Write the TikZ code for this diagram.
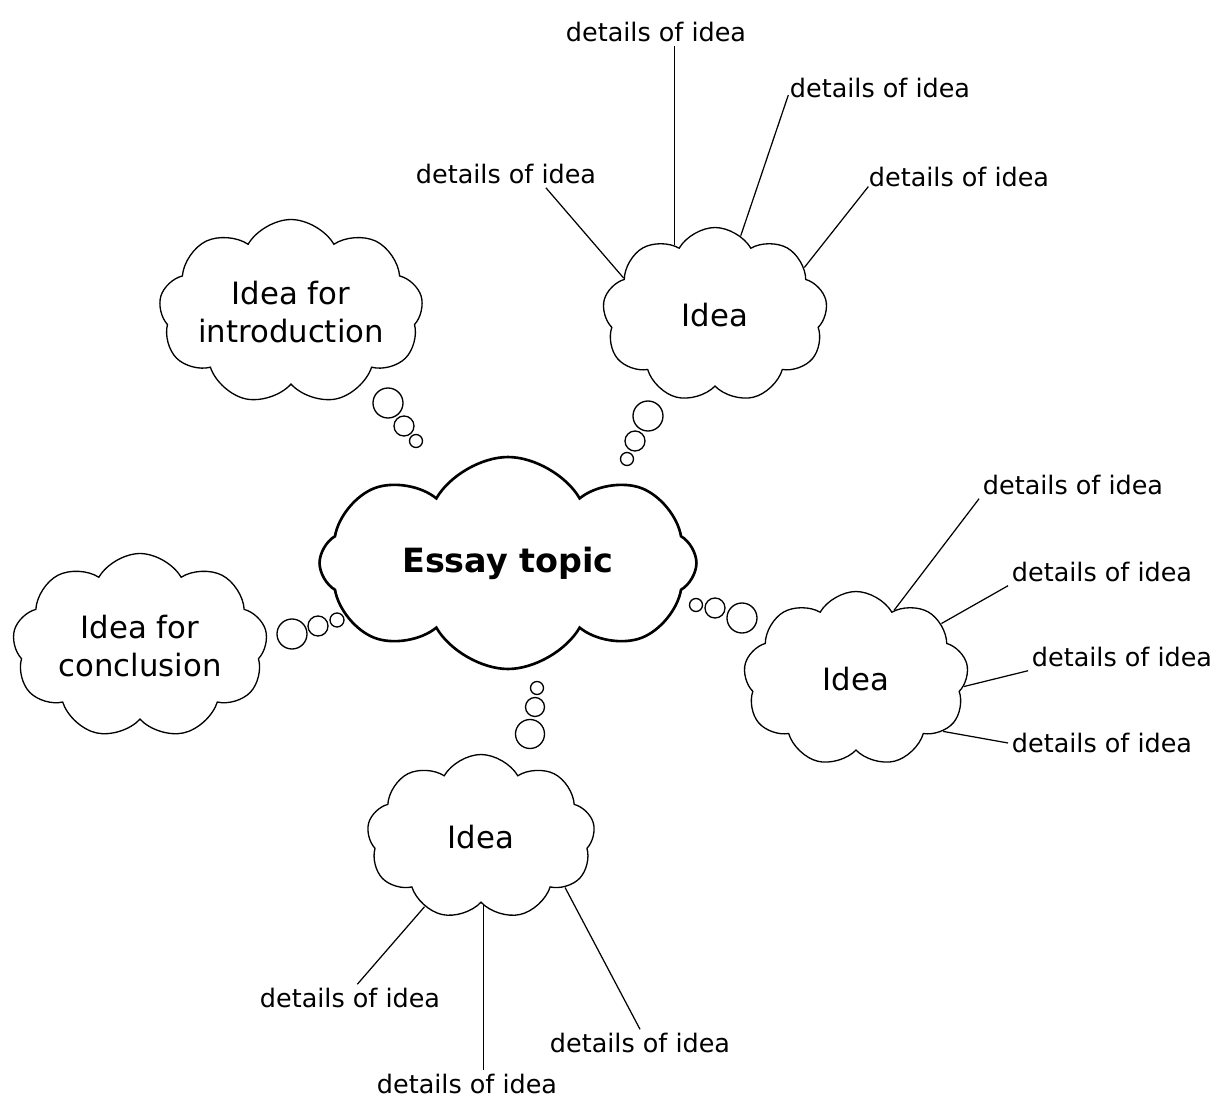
\documentclass[tikz,border=0pt]{standalone}
\usepackage{fontspec}
\setmainfont{DejaVu Sans}
\usetikzlibrary{shapes.symbols,positioning}

\begin{document}
\begin{tikzpicture}[x=0.02cm, y=-0.02cm,
    thought/.style={cloud, draw, cloud puffs=9, cloud puff arc=120, cloud ignores aspect, inner sep=0pt, align=center, font=\fontsize{17.5}{22}\selectfont, line width=0.75pt},
    topic/.style={thought, cloud puffs=8, line width=1.5pt, font=\fontsize{19}{23}\selectfont\bfseries},
    detail/.style={inner sep=2pt, font=\fontsize{14.5}{17}\selectfont},
    bubble/.style={circle, draw, inner sep=0pt, line width=0.75pt},
    link/.style={line width=0.7pt}
]
    \useasboundingbox (0,0) rectangle (1218,1099);

    % Clouds
    \node[topic, minimum width=7.54cm, minimum height=4.24cm] (topic) at (508,563) {Essay topic};
    \node[thought, minimum width=5.06cm, minimum height=3.7cm] (intro) at (291,312) {Idea for\\introduction};
    \node[thought, minimum width=5.1cm, minimum height=3.7cm] (concl) at (140,646) {Idea for\\conclusion};
    \node[thought, minimum width=4.5cm, minimum height=3.5cm] (ideaA) at (715,315) {Idea};
    \node[thought, minimum width=4.5cm, minimum height=3.5cm] (ideaB) at (856,679) {Idea};
    \node[thought, minimum width=4.56cm, minimum height=3.3cm] (ideaC) at (481,837) {Idea};

    % Thought bubbles
    \node[bubble, minimum size=0.6cm] (introA) at (388,403) {};
    \node[bubble, minimum size=0.4cm] (introB) at (404,426) {};
    \node[bubble, minimum size=0.26cm] (introC) at (416,441) {};
    \node[bubble, minimum size=0.6cm] (conclA) at (292,634) {};
    \node[bubble, minimum size=0.4cm] (conclB) at (318,626) {};
    \node[bubble, minimum size=0.28cm] (conclC) at (337,620) {};
    \node[bubble, minimum size=0.6cm] (ideaAa) at (648,416) {};
    \node[bubble, minimum size=0.4cm] (ideaAb) at (635,441) {};
    \node[bubble, minimum size=0.26cm] (ideaAc) at (627,459) {};
    \node[bubble, minimum size=0.6cm] (ideaBa) at (742,618) {};
    \node[bubble, minimum size=0.4cm] (ideaBb) at (715,608) {};
    \node[bubble, minimum size=0.26cm] (ideaBc) at (696,605) {};
    \node[bubble, minimum size=0.58cm] (ideaCa) at (530,734) {};
    \node[bubble, minimum size=0.38cm] (ideaCb) at (535,707) {};
    \node[bubble, minimum size=0.26cm] (ideaCc) at (537,688) {};

    % Details of the top idea
    \node[detail] (dA1) at (656,32) {details of idea};
    \node[detail] (dA2) at (880,88) {details of idea};
    \node[detail] (dA3) at (959,177) {details of idea};
    \node[detail] (dA4) at (506,174) {details of idea};
    \draw[link] (ideaA.120) -- (ideaA.120 |- dA1.south);
    \draw[link, shorten >=-4pt] (ideaA.72) -- (dA2.south west);
    \draw[link, shorten >=-3pt] (ideaA.28) -- (dA3.south west);
    \draw[link] (ideaA.158) -- (dA4.-19);

    % Details of the right idea
    \node[detail] (dB1) at (1073,485) {details of idea};
    \node[detail] (dB2) at (1102,572) {details of idea};
    \node[detail] (dB3) at (1122,657) {details of idea};
    \node[detail] (dB4) at (1102,743) {details of idea};
    \draw[link] (ideaB.61) -- (dB1.south west);
    \draw[link] (ideaB.33) -- (dB2.south west);
    \draw[link] (ideaB.-4) -- (dB3.south west);
    \draw[link] (ideaB.-31) -- (dB4.west);

    % Details of the bottom idea
    \node[detail] (dC1) at (350,998) {details of idea};
    \node[detail] (dC2) at (467,1084) {details of idea};
    \node[detail] (dC3) at (640,1043) {details of idea};
    \draw[link] (ideaC.-129) -- (dC1.62);
    \draw[link] (ideaC.-88) -- (ideaC.-88 |- dC2.north);
    \draw[link] (ideaC.-31) -- (dC3.north);
\end{tikzpicture}
\end{document}
